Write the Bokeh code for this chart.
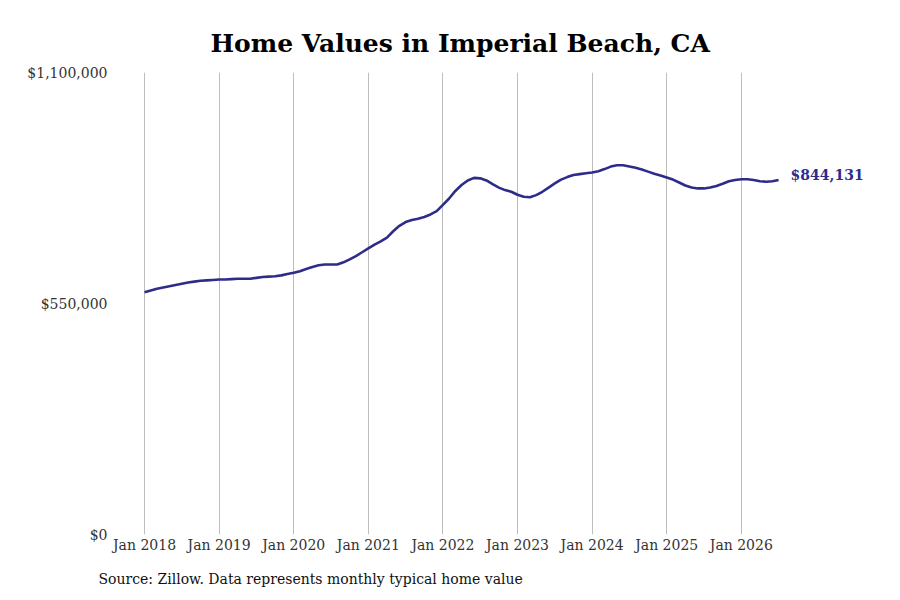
from bokeh.plotting import figure
from bokeh.models import FixedTicker, Title
from bokeh.core.properties import value
from bokeh.embed import file_html
from bokeh.resources import INLINE

FONT = "DejaVu Serif"

start_year = 2018
years = [2018, 2019, 2020, 2021, 2022, 2023, 2024, 2025, 2026]
year_labels = ["Jan 2018", "Jan 2019", "Jan 2020", "Jan 2021", "Jan 2022",
               "Jan 2023", "Jan 2024", "Jan 2025", "Jan 2026"]
y_ticks = [0, 550000, 1100000]
y_tick_labels = ["$0", "$550,000", "$1,100,000"]

# monthly typical home value, Jan 2018 .. Jul 2026 (thousands of $)
values_2018 = [577, 581, 585, 588, 591, 594, 597, 600, 602, 604, 605, 606]
values_2019 = [607, 607, 608, 609, 609, 609, 611, 613, 614, 615, 617, 620]
values_2020 = [623, 627, 632, 637, 641, 643, 643, 643, 648, 655, 663, 672]
values_2021 = [681, 690, 698, 707, 722, 735, 744, 749, 752, 756, 762, 770]
values_2022 = [785, 800, 818, 832, 843, 849, 848, 843, 834, 826, 820, 816]
values_2023 = [809, 804, 803, 808, 816, 826, 836, 845, 851, 856, 858, 860]
values_2024 = [862, 865, 870, 876, 879, 879, 876, 873, 869, 864, 859, 855]
values_2025 = [850, 845, 838, 831, 826, 824, 824, 826, 830, 835, 841, 844]
values_2026 = [846, 846, 844, 841, 840, 841, 844.131]

last_label = "$844,131"

vals = (values_2018 + values_2019 + values_2020 + values_2021 + values_2022 +
        values_2023 + values_2024 + values_2025 + values_2026)
vals = [v * 1000 for v in vals]
xs = [start_year + i / 12 for i in range(len(vals))]

p = figure(width=884, height=600, output_backend="svg", toolbar_location=None,
           x_range=(2017.611, 2027.866), y_range=(0, 1100000),
           min_border_left=115, min_border_right=4, min_border_top=72,
           min_border_bottom=66)
p.outline_line_color = None
p.background_fill_color = "white"

p.line(xs, vals, line_color="#2e2c89", line_width=2.6)
p.text(x=[xs[-1]], y=[vals[-1]], text=[last_label], x_offset=12, y_offset=-5,
       text_font=value(FONT), text_font_size="14px", text_font_style="bold",
       text_color="#2e2c89", text_baseline="middle", text_align="left")

p.xaxis.ticker = FixedTicker(ticks=years)
p.xaxis.major_label_overrides = {y: l for y, l in zip(years, year_labels)}
p.yaxis.ticker = FixedTicker(ticks=y_ticks)
p.yaxis.major_label_overrides = {t: l for t, l in zip(y_ticks, y_tick_labels)}
for ax in (p.xaxis[0], p.yaxis[0]):
    ax.axis_line_color = None
    ax.major_tick_line_color = None
    ax.minor_tick_line_color = None
    ax.major_tick_out = 0
    ax.major_tick_in = 0
    ax.minor_tick_out = 0
    ax.minor_tick_in = 0
    ax.major_label_text_font = FONT
    ax.major_label_text_font_size = "14px"
    ax.major_label_text_color = "#333333"
p.xaxis.major_label_standoff = 2
p.yaxis.major_label_standoff = 8

p.xgrid.grid_line_color = "#bdbdbd"
p.xgrid.grid_line_width = 1
p.ygrid.grid_line_color = None

p.title.text = "Home Values in Imperial Beach, CA"
p.title.text_font = FONT
p.title.text_font_size = "25px"
p.title.text_font_style = "bold"
p.title.text_color = "#000000"
p.title.align = "left"
p.title.offset = 95
p.title.standoff = 30

src = Title(text="Source: Zillow. Data represents monthly typical home value",
            text_font=FONT, text_font_size="14px", text_font_style="normal",
            text_color="#111111", align="left", standoff=27, offset=-17)
p.add_layout(src, "below")

open("out.html", "w").write(file_html(p, INLINE))
